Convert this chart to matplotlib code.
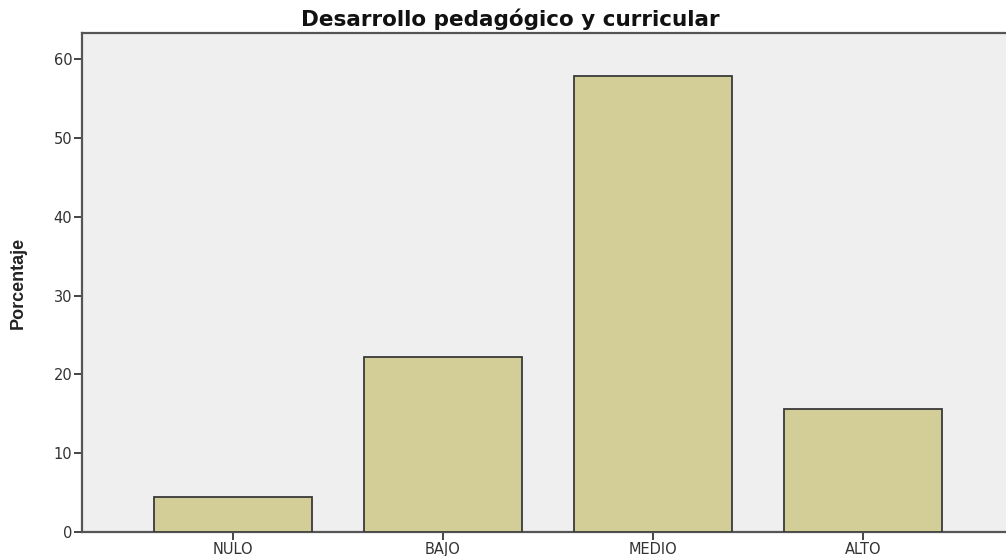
import matplotlib.pyplot as plt

plt.rcParams['font.family'] = 'DejaVu Sans'

# data
categories = ['NULO', 'BAJO', 'MEDIO', 'ALTO']
percent = [4.4, 22.2, 57.8, 15.6]
yticks = [0, 10, 20, 30, 40, 50, 60]

fig = plt.figure(figsize=(10.06, 5.56), dpi=100)
ax = fig.add_axes([82 / 1006, 24 / 556, 1 - 82 / 1006, (532 - 33) / 556])
ax.set_facecolor('#efefef')

x = range(len(categories))
ax.bar(x, percent, width=0.748, color='#d3ce97', edgecolor='#3a3a3a', linewidth=1.3, zorder=3)

ax.set_xlim(-0.719, 3.681)
ax.set_ylim(0, 63.3)
ax.set_yticks(yticks)
ax.set_xticks(list(x))
ax.set_xticklabels(categories)

for s in ['left', 'bottom', 'top']:
    ax.spines[s].set_color('#555555')
    ax.spines[s].set_linewidth(1.6)
ax.spines['right'].set_visible(False)

ax.tick_params(axis='both', direction='out', length=6, width=1.4, color='#444444',
               labelsize=10.5, labelcolor='#333333', pad=1)

ax.set_ylabel('Porcentaje', family=['Liberation Sans Narrow', 'Liberation Sans'],
              fontweight='bold', fontsize=13, color='#222222', labelpad=19)
fig.text(510 / 1006, 1 - 19 / 556, 'Desarrollo pedagógico y curricular', ha='center', va='center',
         family='DejaVu Sans', fontweight='bold', fontsize=15.5, color='#111111')

fig.savefig('out.png', dpi=100)
